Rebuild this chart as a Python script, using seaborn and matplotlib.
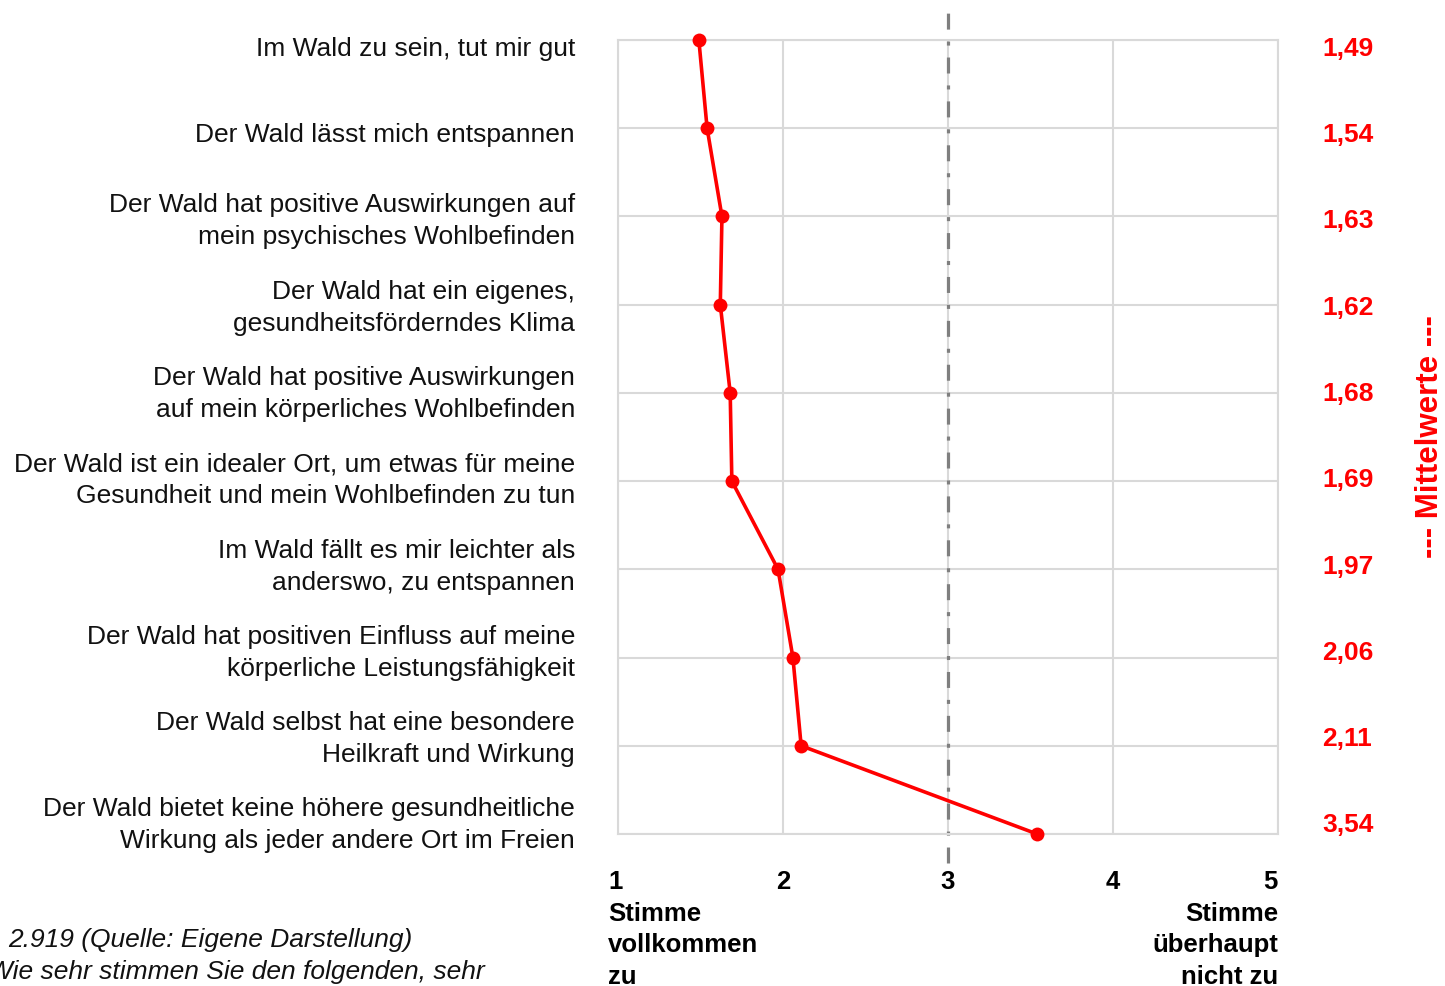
import matplotlib
matplotlib.use("Agg")
import matplotlib.pyplot as plt
import matplotlib.transforms as mtransforms
import seaborn as sns
import pandas as pd

statements = [
    "Im Wald zu sein, tut mir gut",
    "Der Wald lässt mich entspannen",
    "Der Wald hat positive Auswirkungen auf\nmein psychisches Wohlbefinden",
    "Der Wald hat ein eigenes,\ngesundheitsförderndes Klima",
    "Der Wald hat positive Auswirkungen\nauf mein körperliches Wohlbefinden",
    "Der Wald ist ein idealer Ort, um etwas für meine\nGesundheit und mein Wohlbefinden zu tun",
    "Im Wald fällt es mir leichter als\nanderswo, zu entspannen",
    "Der Wald hat positiven Einfluss auf meine\nkörperliche Leistungsfähigkeit",
    "Der Wald selbst hat eine besondere\nHeilkraft und Wirkung",
    "Der Wald bietet keine höhere gesundheitliche\nWirkung als jeder andere Ort im Freien",
]
means = [1.49, 1.54, 1.63, 1.62, 1.68, 1.69, 1.97, 2.06, 2.11, 3.54]
mean_labels = ["1,49", "1,54", "1,63", "1,62", "1,68", "1,69", "1,97", "2,06", "2,11", "3,54"]
x_ticks = [1, 2, 3, 4, 5]
x_ticklabels = ["1\nStimme\nvollkommen\nzu", "2", "3", "4", "5\nStimme\nüberhaupt\nnicht zu"]
right_title = "--- Mittelwerte ---"
footnote_1 = "2.919 (Quelle: Eigene Darstellung)"
footnote_2 = "Wie sehr stimmen Sie den folgenden, sehr"

sns.set_theme(style="white")
plt.rcParams["font.family"] = ["Liberation Sans", "DejaVu Sans"]
plt.rcParams["lines.scale_dashes"] = False

W, H = 1445, 986
fig = plt.figure(figsize=(W / 100, H / 100), dpi=100)
ax = fig.add_axes([618 / W, 1 - 834 / H, (1278 - 618) / W, (834 - 40) / H])

df = pd.DataFrame({"mean": means, "pos": list(range(len(means)))})
grid_c = "#D9D9D9"
ax.set_xlim(1, 5)
ax.set_ylim(len(means) - 1, 0)
ax.set_xticks(x_ticks)
ax.set_yticks(range(len(means)))
ax.grid(True, color=grid_c, linewidth=1.5)
ax.set_axisbelow(True)
for s in ax.spines.values():
    s.set_color(grid_c)
    s.set_linewidth(1.5)

ax.axvline(3, ymin=-0.036, ymax=1.038, clip_on=False, color="#7F7F7F",
           linewidth=2.3, linestyle=(0, (11.5, 8.6, 2.9, 8.6)), zorder=1)

sns.lineplot(data=df, x="mean", y="pos", sort=False, estimator=None, orient="y",
             color="#FF0000", linewidth=2.6, marker="o", markersize=10,
             markeredgewidth=0, ax=ax, clip_on=False, zorder=5)

ax.set_xlabel("")
ax.set_ylabel("")
ax.set_yticklabels([])
ax.tick_params(axis="y", length=0)
ax.tick_params(axis="x", length=0, pad=26)
ax.set_xticklabels(x_ticklabels, fontsize=18.5, fontweight="bold", color="black",
                   va="top", linespacing=1.4)
tl = ax.get_xticklabels()
tl[0].set_ha("left")
tl[0].set_transform(tl[0].get_transform() + mtransforms.ScaledTranslation(-10 / 100, 0, fig.dpi_scale_trans))
tl[-1].set_ha("right")
tl[-1].set_multialignment("right")

trans = mtransforms.blended_transform_factory(ax.transAxes, ax.transData)
for i, (lab, ml) in enumerate(zip(statements, mean_labels)):
    y = 0.1 + i * 0.978
    ax.text(-43 / 660, y, lab, transform=trans, ha="right", va="center",
            fontsize=19, linespacing=1.42, color="#111111")
    ax.text(704 / 660, y, ml, transform=trans, ha="left", va="center",
            fontsize=19, fontweight="bold", color="#FF0000")

fig.text(1430 / W, 1 - 437 / H, right_title, rotation=90, ha="center", va="center",
         fontsize=22.5, fontweight="bold", color="#FF0000")
fig.text(8 / W, 1 - 940 / H, footnote_1, ha="left", va="center", fontsize=19,
         style="italic", color="#111111")
fig.text(-12 / W, 1 - 972 / H, footnote_2, ha="left", va="center", fontsize=19,
         style="italic", color="#111111")

fig.savefig("out.png", dpi=100)
